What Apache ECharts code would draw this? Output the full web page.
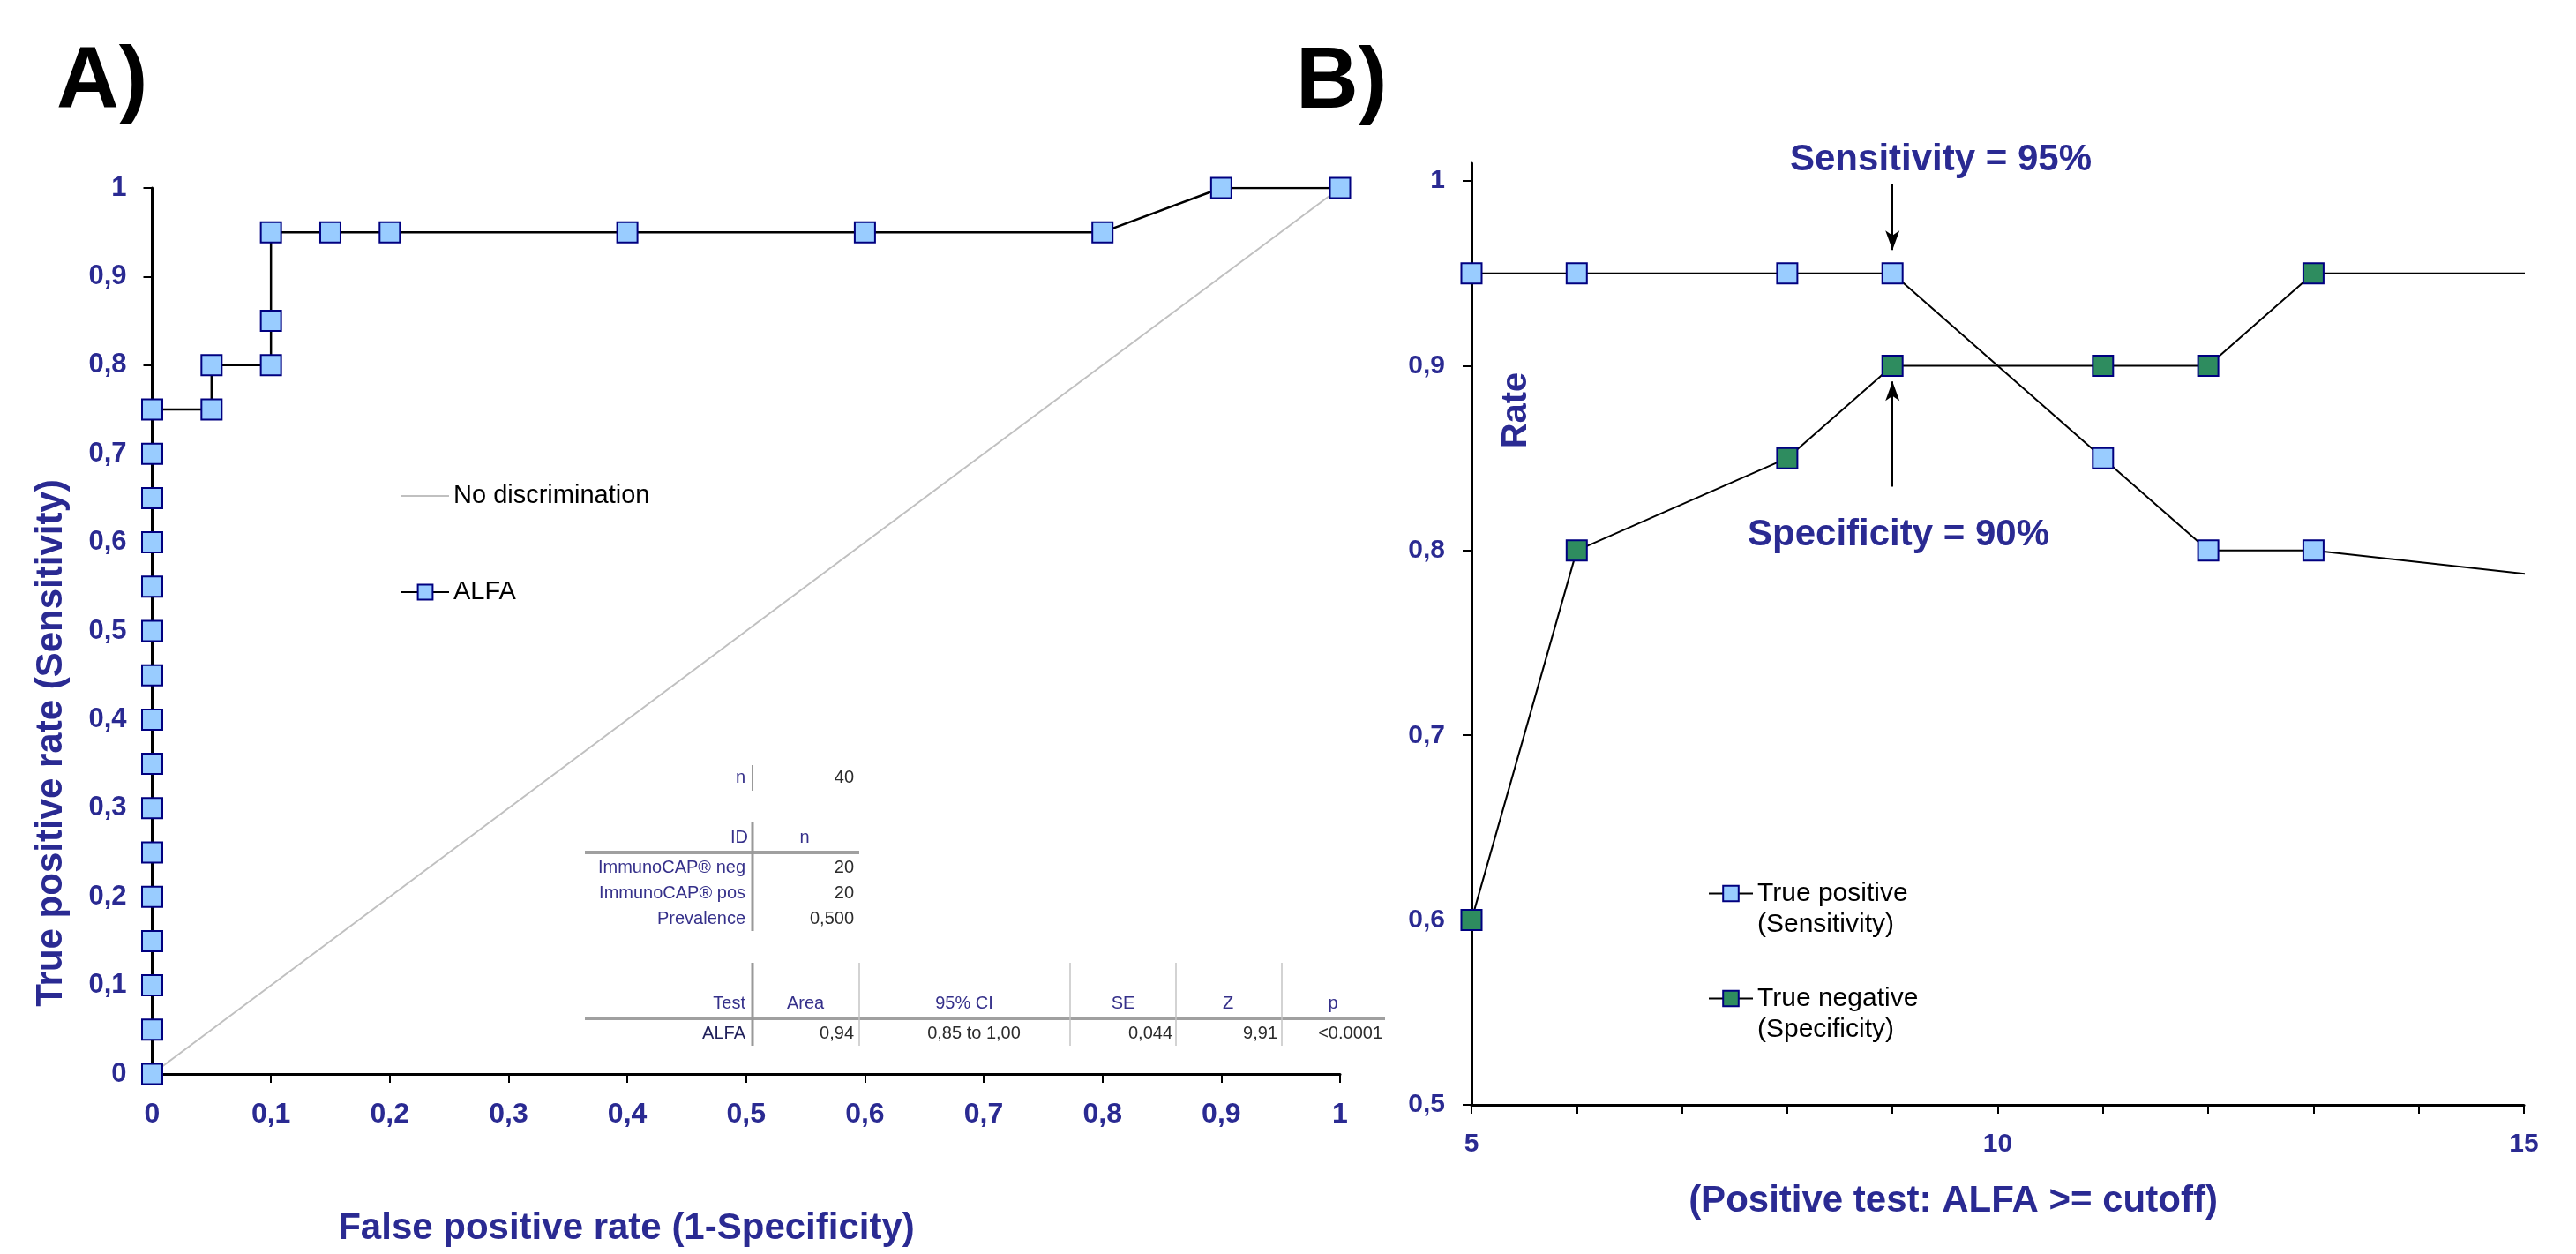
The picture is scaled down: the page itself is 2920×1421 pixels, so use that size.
<!DOCTYPE html>
<html><head><meta charset="utf-8">
<script src="https://cdn.jsdelivr.net/npm/echarts@6/dist/echarts.min.js"></script>
<style>html,body{margin:0;padding:0;background:#fff}#c{width:2920px;height:1421px}</style>
</head><body><div id="c"></div>
<script>
// ---------- Panel A: ROC curve ----------
const rocFpr = [0,0,0,0,0,0,0,0,0,0,0,0,0,0,0,0,0.05,0.05,0.1,0.1,0.1,0.15,0.2,0.4,0.6,0.8,0.9,1];
const rocTpr = [0,0.05,0.1,0.15,0.2,0.25,0.3,0.35,0.4,0.45,0.5,0.55,0.6,0.65,0.7,0.75,0.75,0.8,0.8,0.85,0.95,0.95,0.95,0.95,0.95,0.95,1,1];
const diagX = [0,1];
const diagY = [0,1];
const rocTicks = [0,0.1,0.2,0.3,0.4,0.5,0.6,0.7,0.8,0.9,1];

// ---------- Panel B: sensitivity / specificity vs cutoff ----------
const cutoffs = [5,6,8,9,11,12,13,21];
const sensitivity = [0.95,0.95,0.95,0.95,0.85,0.8,0.8,0.75];
const specificity = [0.6,0.8,0.85,0.9,0.9,0.9,0.95,0.95];
const rateTicks = [0.5,0.6,0.7,0.8,0.9,1];
const cutoffLabelTicks = [5,10,15];
const sensArrow = [9, 0.9986, 0.9627];
const specArrow = [9, 0.8346, 0.8915];

// ---------- Statistics table ----------
const sampleRow = ['n','40'];
const groupHeader = ['ID','n'];
const groupRows = [['ImmunoCAP\u00ae neg','20'],['ImmunoCAP\u00ae pos','20'],['Prevalence','0,500']];
const testHeader = ['Test','Area','95% CI','SE','Z','p'];
const testRow = ['ALFA','0,94','0,85 to 1,00','0,044','9,91','<0.0001'];

const FF = '"Liberation Sans", Arial, Helvetica, sans-serif';
const NAVY = '#2a2a92';
const LBL = '#35308a';
const VAL = '#2b2b2b';
const fmt = v => String(+(+v).toFixed(2)).replace('.', ',');
const zip = (a,b) => a.map((v,i)=>[v,b[i]]);

function T(x,y,text,o){
  o = o||{};
  const el = {type:'text', x:x, y:y, z:100, silent:true,
    style:{text:text, fill:o.fill||'#000', fontSize:o.size||20, fontWeight:o.weight||'normal',
      fontFamily:FF, align:o.align||'left', verticalAlign:'middle'}};
  if (o.rot) el.rotation = o.rot;
  return el;
}
function L(x1,y1,x2,y2,color,w){
  return {type:'line', z:90, silent:true, shape:{x1:x1,y1:y1,x2:x2,y2:y2}, style:{stroke:color,lineWidth:w}};
}

const g = [];
// panel letters
g.push(T(64,94,'A)',{size:98,weight:'bold'}));
g.push(T(1469,95,'B)',{size:98,weight:'bold'}));
// axis titles and annotations
g.push(T(710,1392,'False positive rate (1-Specificity)',{size:42,weight:'bold',fill:NAVY,align:'center'}));
g.push(T(58,842,'True positive rate (Sensitivity)',{size:42,weight:'bold',fill:NAVY,align:'center',rot:Math.PI/2}));
g.push(T(2214,1361,'(Positive test: ALFA >= cutoff)',{size:42,weight:'bold',fill:NAVY,align:'center'}));
g.push(T(1719,465,'Rate',{size:40,weight:'bold',fill:NAVY,align:'center',rot:Math.PI/2}));
g.push(T(2200,181,'Sensitivity = 95%',{size:42,weight:'bold',fill:NAVY,align:'center'}));
g.push(T(2152,606,'Specificity = 90%',{size:42,weight:'bold',fill:NAVY,align:'center'}));

// table 1
g.push(T(845,881,sampleRow[0],{fill:LBL,align:'right'}));
g.push(T(968,881,sampleRow[1],{fill:VAL,align:'right'}));
g.push(L(853,867,853,896,'#999',2));
// table 2
g.push(T(848,949,groupHeader[0],{fill:LBL,align:'right'}));
g.push(T(912,949,groupHeader[1],{fill:LBL,align:'center'}));
g.push(L(663,966,974,966,'#a0a0a0',4));
g.push(L(853,932,853,1055,'#999',3));
const rowY = [983,1012,1041];
groupRows.forEach((r,i)=>{
  g.push(T(845,rowY[i],r[0],{fill:LBL,align:'right'}));
  g.push(T(968,rowY[i],r[1],{fill:VAL,align:'right'}));
});
// table 3
const hdrX = [845,913,1093,1273,1392,1511];
const hdrA = ['right','center','center','center','center','center'];
testHeader.forEach((h,i)=>g.push(T(hdrX[i],1137,h,{fill:LBL,align:hdrA[i]})));
const rowX = [845,968,1104,1329,1448,1567];
const rowA = ['right','right','center','right','right','right'];
testRow.forEach((v,i)=>g.push(T(rowX[i],1171,v,{fill:i===0?'#1f1f5a':VAL,align:rowA[i]})));
g.push(L(663,1154,1570,1154,'#a0a0a0',4));
g.push(L(853,1091,853,1185,'#999',3));
[974,1213,1333,1453].forEach(x=>g.push(L(x,1091,x,1185,'#c4c4c4',1.5)));

const axisLbl = (size)=>({color:NAVY,fontSize:size,fontWeight:'bold',fontFamily:FF});
const blackLine = {show:true,onZero:false,lineStyle:{color:'#000',width:3}};
const tick = {show:true,length:10,lineStyle:{color:'#000',width:2}};

const option = {
  animation:false,
  backgroundColor:'#fff',
  grid:[
    {left:172.5, top:213, width:1346.5, height:1004, containLabel:false},
    {left:1668, top:185, width:1193, height:1067, containLabel:false}
  ],
  xAxis:[
    {gridIndex:0,type:'value',min:0,max:1,interval:0.1,axisLine:blackLine,axisTick:tick,
     splitLine:{show:false},axisLabel:Object.assign({margin:30,formatter:fmt,showMinLabel:true,showMaxLabel:true},axisLbl(32))},
    {gridIndex:1,type:'value',min:5,max:15,interval:1,axisLine:blackLine,axisTick:tick,
     splitLine:{show:false},axisLabel:Object.assign({margin:30,customValues:cutoffLabelTicks},axisLbl(30))}
  ],
  yAxis:[
    {gridIndex:0,type:'value',min:0,max:1,interval:0.1,axisLine:blackLine,axisTick:tick,
     splitLine:{show:false},axisLabel:Object.assign({margin:29,formatter:fmt},axisLbl(31))},
    {gridIndex:1,type:'value',min:0.5,max:1.0096,axisLine:blackLine,
     axisTick:Object.assign({customValues:rateTicks},tick),
     splitLine:{show:false},axisLabel:Object.assign({margin:30,formatter:fmt,customValues:rateTicks},axisLbl(30))}
  ],
  legend:[
    {data:[{name:'No discrimination',icon:'path://M0,0H54V2H0Z'},'ALFA'],orient:'vertical',left:454,top:547,
     itemWidth:54,itemHeight:21,itemGap:79,padding:0,selectedMode:false,
     textStyle:{fontSize:29,color:'#000',fontFamily:FF,lineHeight:30}},
    {data:['True positive\n(Sensitivity)','True negative\n(Specificity)'],orient:'vertical',left:1936,top:960,
     itemWidth:50,itemHeight:22,itemGap:14,padding:0,selectedMode:false,
     formatter: n => '\n' + n,
     textStyle:{fontSize:30,color:'#000',fontFamily:FF,lineHeight:35}}
  ],
  series:[
    {name:'No discrimination',type:'line',xAxisIndex:0,yAxisIndex:0,data:zip(diagX,diagY),symbol:'none',
     color:'#c0c0c0',itemStyle:{color:'#c0c0c0'},lineStyle:{color:'#c0c0c0',width:2},z:1,silent:true},
    {name:'ALFA',type:'line',xAxisIndex:0,yAxisIndex:0,data:zip(rocFpr,rocTpr),symbol:'rect',symbolSize:23,
     itemStyle:{color:'#99ccff',borderColor:'#000080',borderWidth:2},lineStyle:{color:'#000',width:2.5},z:3,silent:true},
    {name:'True positive\n(Sensitivity)',type:'line',xAxisIndex:1,yAxisIndex:1,data:zip(cutoffs,sensitivity),
     symbol:'rect',symbolSize:23,clip:true,
     itemStyle:{color:'#99ccff',borderColor:'#000080',borderWidth:2},lineStyle:{color:'#000',width:2},z:3,silent:true,
     markLine:{silent:true,symbol:['none','arrow'],symbolSize:[12,22],label:{show:false},
       lineStyle:{color:'#000',width:2,type:'solid'},
       data:[[{coord:[sensArrow[0],sensArrow[1]]},{coord:[sensArrow[0],sensArrow[2]]}],
             [{coord:[specArrow[0],specArrow[1]]},{coord:[specArrow[0],specArrow[2]]}]]}},
    {name:'True negative\n(Specificity)',type:'line',xAxisIndex:1,yAxisIndex:1,data:zip(cutoffs,specificity),
     symbol:'rect',symbolSize:23,clip:true,
     itemStyle:{color:'#2e8c5f',borderColor:'#000080',borderWidth:2},lineStyle:{color:'#000',width:2},z:3,silent:true}
  ],
  graphic:g
};
const chart = echarts.init(document.getElementById('c'));
chart.setOption(option);
</script></body></html>
